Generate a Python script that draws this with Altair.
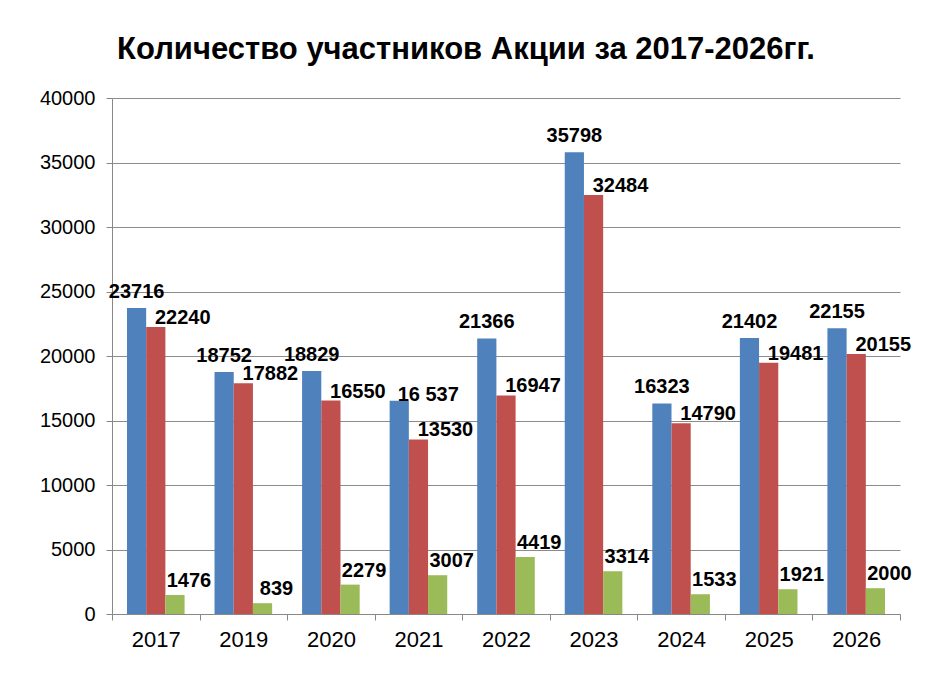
import altair as alt
import pandas as pd

years = ["2017", "2019", "2020", "2021", "2022", "2023", "2024", "2025", "2026"]
series_names = ["Ряд 1", "Ряд 2", "Ряд 3"]
s1 = [23716, 18752, 18829, 16537, 21366, 35798, 16323, 21402, 22155]
s2 = [22240, 17882, 16550, 13530, 16947, 32484, 14790, 19481, 20155]
s3 = [1476, 839, 2279, 3007, 4419, 3314, 1533, 1921, 2000]
s1_labels = ["23716", "18752", "18829", "16 537", "21366", "35798", "16323", "21402", "22155"]
s2_labels = [str(v) for v in s2]
s3_labels = [str(v) for v in s3]
colors = ["#4F81BD", "#C0504D", "#9BBB59"]

rows = []
for vals, labs, name in zip([s1, s2, s3], [s1_labels, s2_labels, s3_labels], series_names):
    for y, v, l in zip(years, vals, labs):
        rows.append({"year": y, "series": name, "value": v, "label": l})
df = pd.DataFrame(rows)

FONT = "Liberation Sans"

x_enc = alt.X("year:N", sort=years, title=None,
              scale=alt.Scale(paddingInner=0, paddingOuter=0),
              axis=alt.Axis(labelAngle=0, tickBand="extent", labelFontSize=22,
                            labelColor="#000000", labelFont=FONT, labelPadding=9,
                            domainColor="#888888", tickColor="#888888", tickSize=6,
                            grid=False))
xoff = alt.XOffset("series:N", sort=series_names,
                   scale=alt.Scale(paddingInner=0, paddingOuter=0.78))
y_enc = alt.Y("value:Q", title=None,
              scale=alt.Scale(domain=[0, 40000], nice=False),
              axis=alt.Axis(values=list(range(0, 40001, 5000)), format="d",
                            labelFontSize=20, labelColor="#000000", labelFont=FONT,
                            labelPadding=11, tickSize=6, tickColor="#888888",
                            domainColor="#888888", gridColor="#8c8c8c"))

bars = alt.Chart(df).mark_bar().encode(
    x=x_enc, xOffset=xoff, y=y_enc,
    color=alt.Color("series:N", sort=series_names,
                    scale=alt.Scale(domain=series_names, range=colors), legend=None),
)

def label_layer(cond, dx, dy):
    return alt.Chart(df).transform_filter(cond).mark_text(
        font=FONT, fontSize=20, fontWeight="bold", color="#000000",
        align="center", baseline="alphabetic", dx=dx, dy=dy,
    ).encode(x=alt.X("year:N", sort=years), xOffset=alt.XOffset("series:N", sort=series_names),
             y="value:Q", text="label:N")

blue = (alt.datum.series == "Ряд 1")
chart = alt.layer(
    bars,
    label_layer(blue & (alt.datum.year != "2021"), 0, -10),
    label_layer(blue & (alt.datum.year == "2021"), 29, 0),
    label_layer(alt.datum.series == "Ряд 2", 27, -3),
    label_layer(alt.datum.series == "Ряд 3", 14, -8),
).properties(
    width=788, height=516,
    title=alt.TitleParams("Количество участников Акции за 2017-2026гг.",
                          font=FONT, fontSize=31, fontWeight="bold", color="#000000",
                          anchor="middle", dx=-40, offset=22),
    autosize=alt.AutoSizeParams(type="none"),
    padding={"left": 104, "top": 90, "right": 20, "bottom": 70},
).configure_view(stroke=None).configure_axis(domainWidth=1, tickWidth=1, gridWidth=1)

chart.save("out.html", embed_options={"renderer": "svg", "actions": False})
